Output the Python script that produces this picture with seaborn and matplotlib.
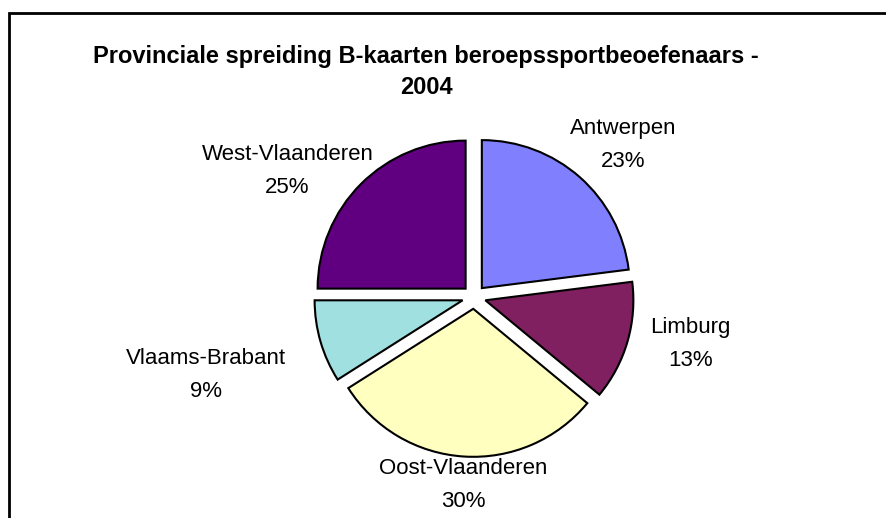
import matplotlib
matplotlib.use("Agg")
import matplotlib.pyplot as plt
from matplotlib.patches import Rectangle
import seaborn as sns

provincies = ['Antwerpen', 'Limburg', 'Oost-Vlaanderen', 'Vlaams-Brabant', 'West-Vlaanderen']
aandeel = [23, 13, 30, 9, 25]
kleuren = ['#8080FF', '#802060', '#FFFFC0', '#A0E0E0', '#600080']
# label positions (data units, pie radius = 1)
label_pos = [(1.01, 1.03), (1.46, -0.32), (-0.07, -1.27), (-1.81, -0.53), (-1.26, 0.85)]

sns.set_style("white")
plt.rcParams['font.family'] = ['Liberation Sans', 'DejaVu Sans']
plt.rcParams['text.color'] = 'black'

fig = plt.figure(figsize=(8.87, 5.18), dpi=100)

# frame round the chart area
fig.add_artist(Rectangle((9 / 887, -0.1), 1.2, 1.1 - 13 / 518, transform=fig.transFigure,
                         fill=False, edgecolor='black', linewidth=2))

fig.text(426 / 887, 1 - 57 / 518, 'Provinciale spreiding B-kaarten beroepssportbeoefenaars -',
         ha='center', va='center', fontsize=17, fontweight='bold', color='black')
fig.text(426 / 887, 1 - 87 / 518, '2004', ha='center', va='center', fontsize=17,
         fontweight='bold', color='black')

# square axes centred on pie centre (474, 297) px, radius 148 px
box = 400
ax = fig.add_axes([(474 - box / 2) / 887, (518 - 297 - box / 2) / 518, box / 887, box / 518])
lim = box / 2 / 148

ax.pie(aandeel, colors=kleuren, startangle=90, counterclock=False,
       explode=[0.08] * len(aandeel), radius=1,
       wedgeprops=dict(edgecolor='black', linewidth=1.5))
ax.set_xlim(-lim, lim)
ax.set_ylim(-lim, lim)
ax.axis('off')

for naam, pct, (x, y) in zip(provincies, aandeel, label_pos):
    ax.text(x, y, f'{naam}\n{pct}%', ha='center', va='center', fontsize=16,
            linespacing=1.75, color='black')

fig.savefig('out.png', dpi=100)
